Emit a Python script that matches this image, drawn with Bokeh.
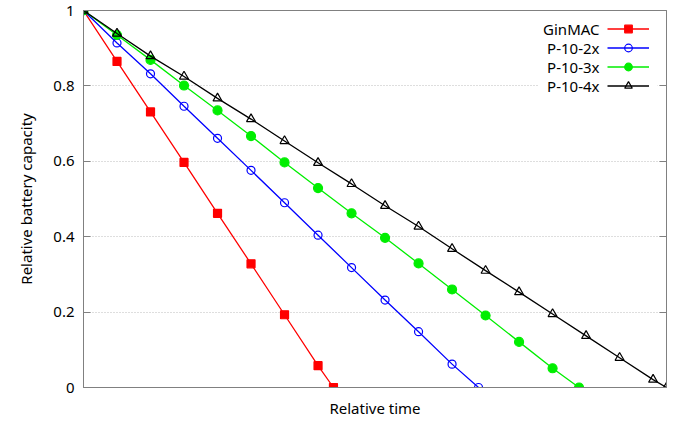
from bokeh.plotting import figure
from bokeh.models import (Range1d, LinearAxis, FixedTicker, Legend, LegendItem, Label,
                          BoxAnnotation)
from bokeh.embed import file_html
from bokeh.resources import INLINE

# ---- data ----
t_gin = [0, 1, 2, 3, 4, 5, 6, 7, 7.46]
ginmac = [1, 0.865, 0.731, 0.597, 0.462, 0.328, 0.193, 0.058, 0]

t_2x = [0, 1, 2, 3, 4, 5, 6, 7, 8, 9, 10, 11, 11.79]
p10_2x = [1, 0.914, 0.832, 0.746, 0.661, 0.576, 0.490, 0.404, 0.318, 0.232, 0.148, 0.062, 0]

t_3x = [0, 1, 2, 3, 4, 5, 6, 7, 8, 9, 10, 11, 12, 13, 14, 14.79]
p10_3x = [1, 0.935, 0.869, 0.801, 0.735, 0.667, 0.597, 0.529, 0.462, 0.397, 0.329, 0.260,
          0.191, 0.121, 0.051, 0]

t_4x = [0, 1, 2, 3, 4, 5, 6, 7, 8, 9, 10, 11, 12, 13, 14, 15, 16, 17, 17.4]
p10_4x = [1, 0.939, 0.879, 0.825, 0.767, 0.712, 0.654, 0.596, 0.540, 0.482, 0.427, 0.368,
          0.310, 0.253, 0.195, 0.137, 0.079, 0.021, 0]

series_names = ["GinMAC", "P-10-2x", "P-10-3x", "P-10-4x"]
y_ticks = [0, 0.2, 0.4, 0.6, 0.8, 1]
y_tick_labels = ["0", "0.2", "0.4", "0.6", "0.8", "1"]
x_label = "Relative time"
y_label = "Relative battery capacity"

FONT = "Noto Sans"
GRAY = "#808080"

p = figure(width=685, height=420, output_backend="svg", toolbar_location=None,
           x_range=Range1d(0, 17.4), y_range=Range1d(0, 1),
           min_border_left=83, min_border_right=19, min_border_top=10, min_border_bottom=32)
p.background_fill_color = "white"
p.border_fill_color = "white"
p.outline_line_color = GRAY
p.outline_line_width = 1

yt = FixedTicker(ticks=y_ticks)
p.yaxis.ticker = yt
p.yaxis.major_label_overrides = {float(k): v for k, v in zip(y_ticks, y_tick_labels)}
p.yaxis.axis_label = y_label
p.xaxis.ticker = FixedTicker(ticks=[])
p.xaxis.axis_label = x_label

for ax in [p.xaxis[0], p.yaxis[0]]:
    ax.axis_line_color = GRAY
    ax.major_tick_line_color = GRAY
    ax.minor_tick_line_color = None
    ax.major_tick_in = 7
    ax.major_tick_out = 0
    ax.major_label_text_font = FONT
    ax.major_label_text_font_size = "15px"
    ax.major_label_text_color = "black"
    ax.axis_label_text_font = FONT
    ax.axis_label_text_font_size = "15px"
    ax.axis_label_text_font_style = "normal"
    ax.axis_label_text_color = "black"
p.yaxis.major_label_standoff = 9
p.yaxis.axis_label_standoff = 14
p.xaxis.axis_label_standoff = 10

right = LinearAxis(ticker=yt, major_label_overrides={float(k): "" for k in y_ticks},
                   axis_line_color=GRAY, major_tick_line_color=GRAY,
                   minor_tick_line_color=None, major_tick_in=7, major_tick_out=0)
p.add_layout(right, "right")

p.ygrid.ticker = yt
p.ygrid.grid_line_color = "#bdbdbd"
p.ygrid.grid_line_dash = "1 2"
p.ygrid.grid_line_width = 1
p.xgrid.visible = False

styles = [
    dict(x=t_gin, y=ginmac, color="#ff0000", marker="square", size=8, fill="#ff0000"),
    dict(x=t_2x, y=p10_2x, color="#0000ff", marker="circle", size=8, fill=None),
    dict(x=t_3x, y=p10_3x, color="#00ee00", marker="circle", size=9, fill="#00ee00"),
    dict(x=t_4x, y=p10_4x, color="#000000", marker="triangle", size=9, fill=None),
]

# white key background (covers the dotted grid behind the key, as in the reference)
p.add_layout(BoxAnnotation(left=455, right=574, bottom=292, top=370,
                           left_units="screen", right_units="screen",
                           bottom_units="screen", top_units="screen",
                           fill_color="white", fill_alpha=1, line_color=None,
                           propagate_hover=False))

items = []
for name, s in zip(series_names, styles):
    ln = p.line(s["x"], s["y"], line_color=s["color"], line_width=1.3)
    sc = p.scatter(s["x"], s["y"], marker=s["marker"], size=s["size"], line_color=s["color"],
                   line_width=1.2, fill_color=s["fill"],
                   fill_alpha=1 if s["fill"] else 0)
    items.append(LegendItem(label=" ", renderers=[ln, sc]))

row_h = 19
legend = Legend(items=items, location=(524, 292), glyph_width=42, glyph_height=row_h,
                label_height=row_h, label_width=0, label_standoff=0, padding=0, spacing=0,
                margin=0, border_line_color=None, background_fill_color="white",
                background_fill_alpha=1, label_text_font_size="10px")
p.add_layout(legend, "center")

top_row = 292 + 4 * row_h - row_h / 2
for i, name in enumerate(series_names):
    p.add_layout(Label(x=516, y=top_row - i * row_h, x_units="screen", y_units="screen",
                       text=name, text_align="right", text_baseline="middle",
                       text_font=FONT, text_font_size="15px", text_color="black"))

open("out.html", "w").write(file_html(p, INLINE))
